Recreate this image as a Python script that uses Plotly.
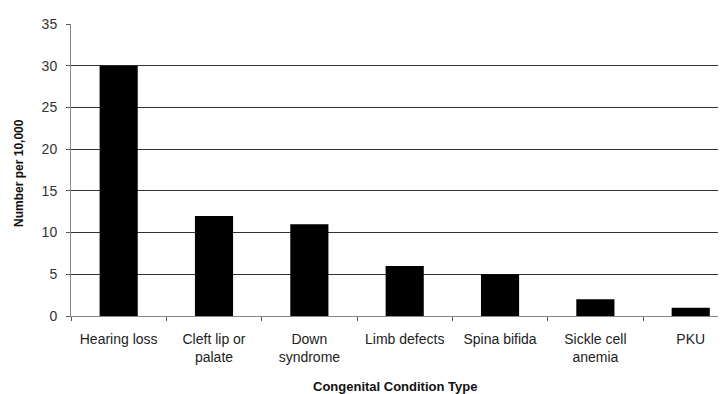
import plotly.graph_objects as go

categories = ["Hearing loss", "Cleft lip or<br>palate", "Down<br>syndrome", "Limb defects",
              "Spina bifida", "Sickle cell<br>anemia", "PKU"]
values = [30, 12, 11, 6, 5, 2, 1]
y_ticks = [0, 5, 10, 15, 20, 25, 30, 35]

fig = go.Figure(go.Bar(x=categories, y=values, marker=dict(color="black", line=dict(width=0)),
                       width=0.4))

font = "Liberation Sans, Arial, sans-serif"
fig.update_layout(
    width=726, height=394,
    margin=dict(l=63, r=8, t=16, b=86, autoexpand=False),
    paper_bgcolor="white", plot_bgcolor="white",
    showlegend=False,
    font=dict(family=font, size=14, color="#222"),
    xaxis=dict(
        type="category", range=[-0.5, 6.37], automargin=False,
        tickson="boundaries", ticks="outside", ticklen=4, tickcolor="#555",
        showline=True, linecolor="#888", linewidth=1,
        showgrid=False, ticklabelstandoff=10,
        tickfont=dict(size=14, color="#222"),
    ),
    yaxis=dict(
        range=[0, 35], tickvals=y_ticks, automargin=False,
        ticks="outside", ticklen=4, tickcolor="#555",
        showline=True, linecolor="#888", linewidth=1,
        showgrid=True, gridcolor="#333", gridwidth=1,
        zeroline=False, ticklabelstandoff=6,
        tickfont=dict(size=14, color="#333"),
    ),
    annotations=[
        dict(text="<b>Congenital Condition Type</b>", xref="paper", yref="paper",
             x=0.495, y=-0.243, xanchor="center", yanchor="middle", showarrow=False,
             font=dict(size=13, color="#111")),
        dict(text="<b>Number per 10,000</b>", xref="paper", yref="paper",
             x=-0.0794, y=0.49, xanchor="center", yanchor="middle", showarrow=False,
             textangle=-90, font=dict(size=12, color="#111")),
    ],
)

fig.write_html("out.html")
